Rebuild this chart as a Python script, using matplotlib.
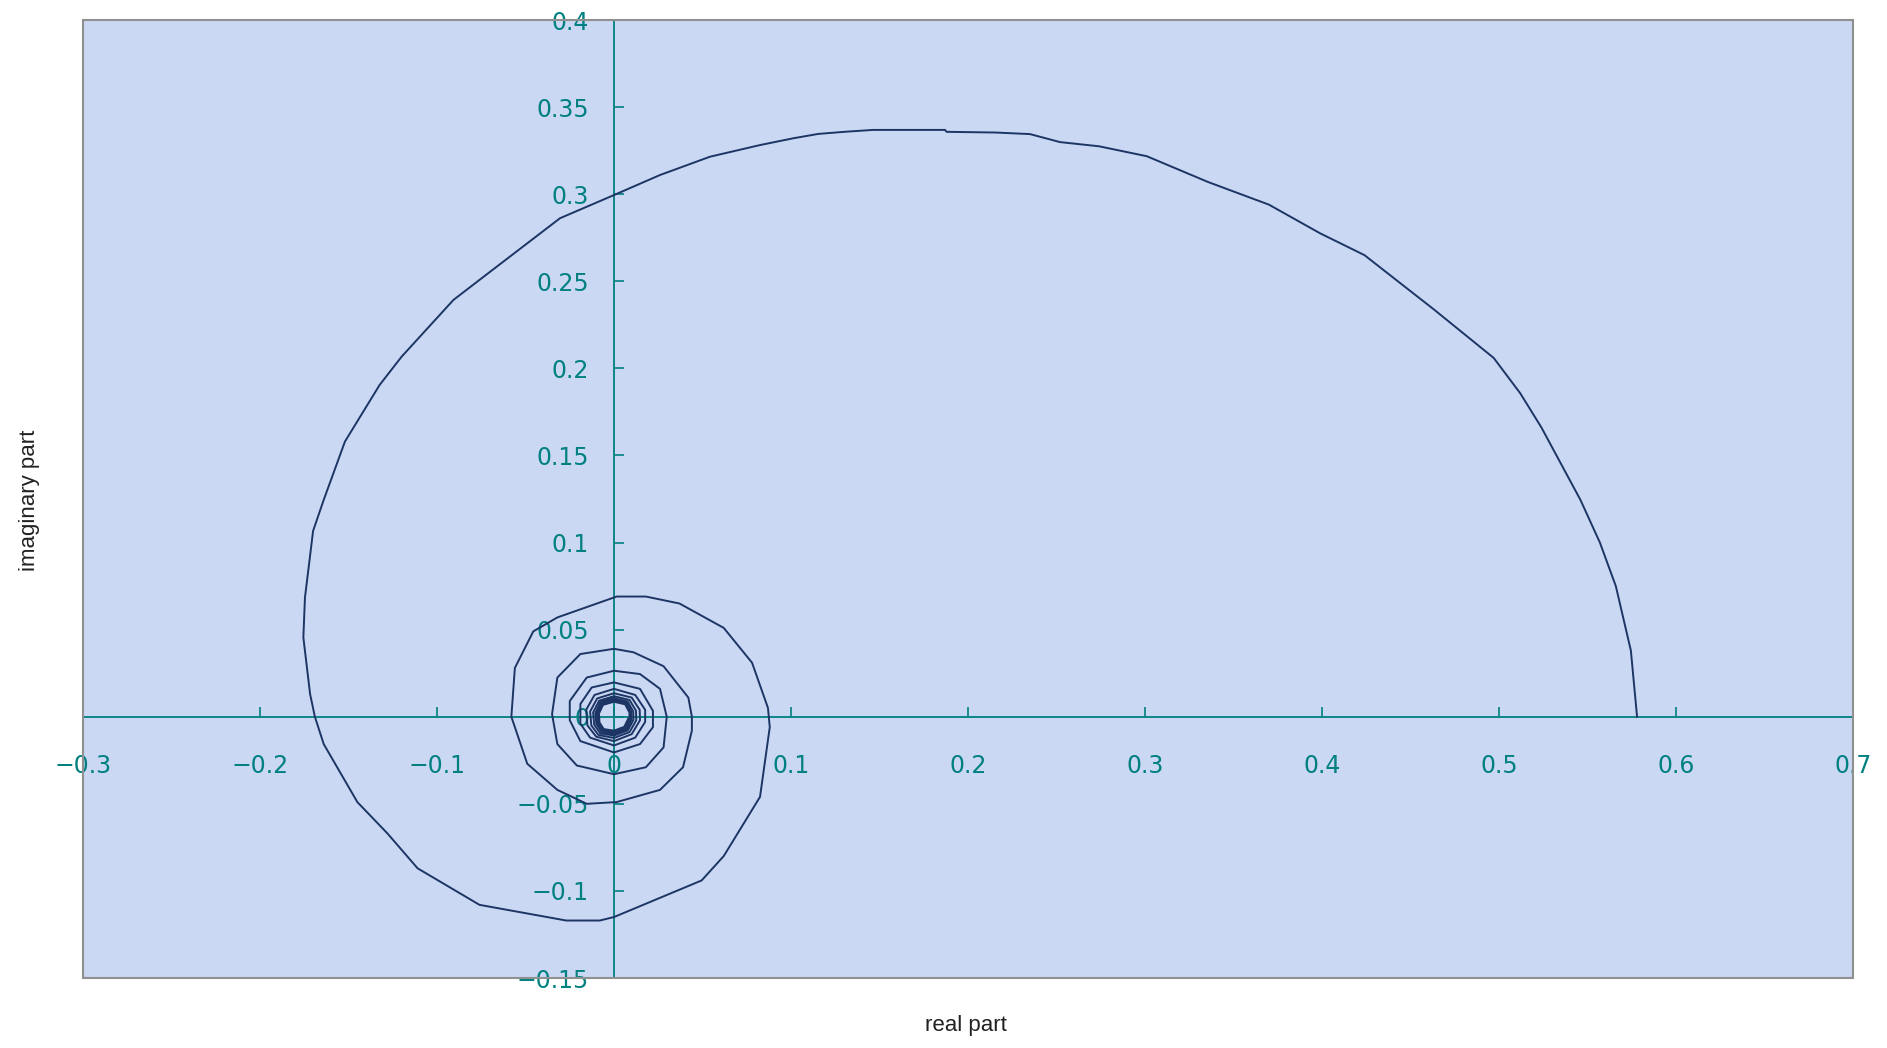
import numpy as np
from matplotlib import pyplot as plt
from matplotlib.patches import Rectangle

#=======================================
# Data
#=======================================
# outer turn
re1 = [0.578, 0.5745, 0.566, 0.557, 0.546, 0.524, 0.512, 0.497, 0.463, 0.424,
       0.399, 0.370, 0.3356, 0.301, 0.274, 0.252, 0.235, 0.2153, 0.1879, 0.187,
       0.1465, 0.1314, 0.1154, 0.1013, 0.0825, 0.0542, 0.026, 0.000, -0.0305, -0.0466,
       -0.0711, -0.0907, -0.120, -0.1324, -0.152, -0.164, -0.170, -0.1746, -0.1755, -0.1717,
       -0.169, -0.164, -0.145, -0.128, -0.111, -0.076, -0.027, -0.008, 0.000, 0.0495,
       0.062, 0.0825, 0.088]
im1 = [0.000, 0.038, 0.075, 0.100, 0.1245, 0.166, 0.1857, 0.206, 0.234, 0.265,
       0.2775, 0.294, 0.307, 0.3218, 0.3275, 0.3299, 0.3345, 0.3354, 0.3358, 0.3369,
       0.3369, 0.3359, 0.3346, 0.3321, 0.3282, 0.3215, 0.311, 0.2995, 0.2862, 0.2737,
       0.2546, 0.2393, 0.2067, 0.1905, 0.158, 0.1245, 0.1067, 0.0684, 0.0455, 0.013,
       0.000, -0.0157, -0.049, -0.067, -0.087, -0.108, -0.117, -0.117, -0.115, -0.094,
       -0.080, -0.046, -0.006]
# second turn
re2 = [0.087, 0.078, 0.062, 0.037, 0.018, 0.0015, -0.032, -0.0456, -0.056, -0.058,
       -0.049, -0.032, -0.0154, 0.0015, 0.026, 0.039, 0.044]
im2 = [0.005, 0.031, 0.051, 0.065, 0.069, 0.069, 0.057, 0.049, 0.028, 0.000,
       -0.027, -0.042, -0.050, -0.049, -0.042, -0.029, -0.008]
# third turn
re3 = [0.044, 0.042, 0.028, 0.011, 0.000, -0.019, -0.032, -0.035, -0.032, -0.021,
       0.000, 0.018, 0.028]
im3 = [0.000, 0.011, 0.029, 0.037, 0.039, 0.036, 0.0225, 0.0015, -0.0157, -0.028,
       -0.033, -0.029, -0.0176]
# fourth turn
re4 = [0.0298, 0.026, 0.0147, 0.000, -0.0154, -0.025, -0.025, -0.019, 0.000, 0.0147, 0.022]
im4 = [0.000, 0.016, 0.0245, 0.0264, 0.0225, 0.009, -0.002, -0.014, -0.0205, -0.0157, -0.006]
# inner turns
re5 = [0.022, 0.0147, 0.000, -0.0126, -0.019, -0.019, -0.0135, 0.000, 0.012, 0.0176]
im5 = [0.0034, 0.016, 0.0197, 0.0168, 0.0073, -0.004, -0.012, -0.0165, -0.012, -0.003]
re6 = [0.0176, 0.012, 0.000, -0.011, -0.0157, -0.015, -0.010, 0.000, 0.010, 0.0147]
im6 = [0.004, 0.0125, 0.0160, 0.0125, 0.004, -0.005, -0.0115, -0.0140, -0.010, -0.002]
re7 = [0.0145, 0.010, 0.000, -0.0095, -0.0135, -0.0128, -0.0088, 0.000, 0.0088, 0.0126]
im7 = [0.004, 0.0110, 0.0135, 0.0105, 0.003, -0.005, -0.0105, -0.0122, -0.0088, -0.002]
re8 = [0.0124, 0.0088, 0.000, -0.0084, -0.0118, -0.0112, -0.0078, 0.000, 0.0078, 0.0110]
im8 = [0.0035, 0.0096, 0.0118, 0.0092, 0.0025, -0.0045, -0.0095, -0.0108, -0.0078, -0.0018]
re9 = [0.0109, 0.0078, 0.000, -0.0076, -0.0105, -0.0100, -0.0070, 0.000, 0.0070, 0.0098]
im9 = [0.003, 0.0086, 0.0106, 0.0083, 0.0022, -0.004, -0.0086, -0.0097, -0.0070, -0.0016]
re10 = [0.0097, 0.0070, 0.000, -0.0068, -0.0094, -0.0090, -0.0064, 0.000, 0.0064, 0.0088]
im10 = [0.0028, 0.0078, 0.0095, 0.0075, 0.002, -0.0036, -0.0078, -0.0088, -0.0064, -0.0014]
re11 = [0.0087, 0.0063, 0.000, -0.0062, -0.0085, -0.0082, -0.0058, 0.000, 0.0058, 0.0080]
im11 = [0.0025, 0.0071, 0.0086, 0.0068, 0.0018, -0.0033, -0.0071, -0.0080, -0.0058, -0.0012]

real_part = re1 + re2 + re3 + re4 + re5 + re6 + re7 + re8 + re9 + re10 + re11
imag_part = im1 + im2 + im3 + im4 + im5 + im6 + im7 + im8 + im9 + im10 + im11

x_ticks = [-0.3, -0.2, -0.1, 0, 0.1, 0.2, 0.3, 0.4, 0.5, 0.6, 0.7]
x_labels = ['\u22120.3', '\u22120.2', '\u22120.1', '0', '0.1', '0.2', '0.3', '0.4', '0.5', '0.6', '0.7']
y_ticks = [-0.15, -0.1, -0.05, 0, 0.05, 0.1, 0.15, 0.2, 0.25, 0.3, 0.35, 0.4]
y_labels = ['\u22120.15', '\u22120.1', '\u22120.05', '0', '0.05', '0.1', '0.15', '0.2', '0.25',
            '0.3', '0.35', '0.4']

#========================
# Plot
#========================
teal = '#008080'
tick_font = ['Liberation Sans Narrow', 'DejaVu Sans']

fig = plt.figure(figsize=(18.87, 10.48), dpi=100)
ax = fig.add_axes([83/1887, 1-978/1048, (1853-83)/1887, (978-20)/1048])
ax.set_facecolor('#cbd8f4')

ax.plot(real_part, imag_part, color='#1c3564', lw=1.4, zorder=3)

ax.set_xlim(-0.3, 0.7)
ax.set_ylim(-0.15, 0.4)

# axes crossing at the origin
ax.spines['left'].set_position(('data', 0))
ax.spines['bottom'].set_position(('data', 0))
for s in ['left', 'bottom']:
    ax.spines[s].set_color(teal)
    ax.spines[s].set_linewidth(1.3)
    ax.spines[s].set_zorder(2)
for s in ['top', 'right']:
    ax.spines[s].set_visible(False)
ax.add_patch(Rectangle((0, 0), 1, 1, transform=ax.transAxes, fill=False,
                       edgecolor='#909090', lw=1.5, clip_on=False, zorder=4))

ax.set_xticks(x_ticks)
ax.set_xticklabels(x_labels)
ax.set_yticks(y_ticks)
ax.set_yticklabels(y_labels)
ax.tick_params(axis='x', direction='in', length=7, width=1.2, color=teal,
               labelcolor=teal, pad=27, labelsize=17)
ax.tick_params(axis='y', direction='in', length=7, width=1.2, color=teal,
               labelcolor=teal, pad=18, labelsize=17)
for lab in ax.get_xticklabels() + ax.get_yticklabels():
    lab.set_family(tick_font)
    lab.set_clip_on(False)

fig.text(966/1887, 1-1025/1048, 'real part', ha='center', va='center',
         fontsize=16, color='#222222', family=['Liberation Sans', 'DejaVu Sans'])
fig.text(30/1887, 1-500/1048, 'imaginary part', ha='center', va='center',
         rotation=90, fontsize=16, color='#222222', family=['Liberation Sans', 'DejaVu Sans'])

plt.savefig('out.png', dpi=100)
